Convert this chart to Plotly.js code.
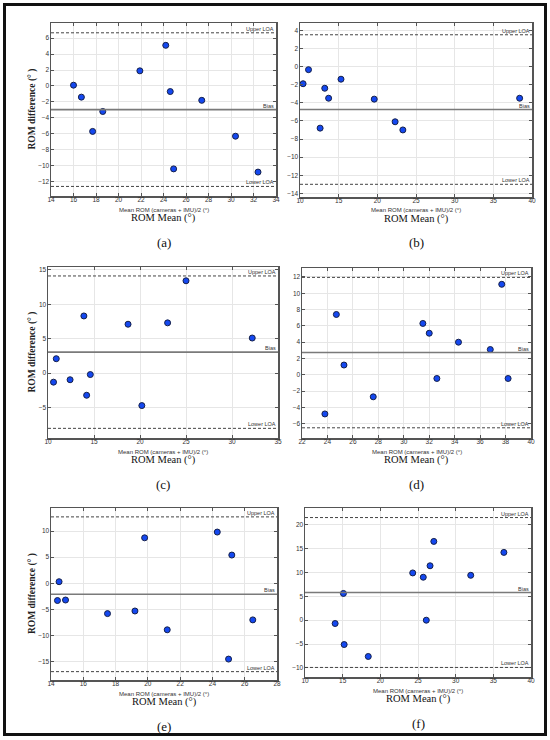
<!DOCTYPE html>
<html>
<head>
<meta charset="utf-8">
<script src="https://cdn.plot.ly/plotly-3.0.1.min.js"></script>
<style>html,body{margin:0;padding:0;background:#fff;}#chart{width:550px;height:740px;}</style>
</head>
<body>
<div id="chart"></div>
<script>
// ---- Data ----
const panelLabels = ["(a)", "(b)", "(c)", "(d)", "(e)", "(f)"];

const xA = [16.0, 16.7, 17.7, 18.6, 21.9, 24.2, 24.6, 24.9, 27.4, 30.4, 32.4];
const yA = [0.1, -1.4, -5.7, -3.2, 1.9, 5.1, -0.7, -10.4, -1.8, -6.3, -10.8];

const xB = [10.4, 11.1, 12.6, 13.2, 13.7, 15.3, 19.6, 22.3, 23.3, 38.4];
const yB = [-1.9, -0.35, -6.8, -2.4, -3.5, -1.4, -3.6, -6.1, -7.0, -3.5];

const xC = [10.6, 10.9, 12.4, 13.9, 14.2, 14.6, 18.7, 20.2, 23.0, 25.0, 32.2];
const yC = [-1.3, 2.1, -0.95, 8.3, -3.2, -0.2, 7.1, -4.7, 7.3, 13.4, 5.1];

const xD = [23.8, 24.7, 25.3, 27.6, 31.5, 32.0, 32.6, 34.3, 36.8, 37.7, 38.2];
const yD = [-4.8, 7.4, 1.2, -2.7, 6.3, 5.1, -0.45, 4.0, 3.1, 11.1, -0.45];

const xE = [14.4, 14.5, 14.9, 17.5, 19.2, 19.8, 21.2, 24.3, 25.0, 25.2, 26.5];
const yE = [-3.3, 0.3, -3.2, -5.8, -5.3, 8.7, -8.9, 9.8, -14.5, 5.4, -7.0];

const xF = [14.0, 15.1, 15.2, 18.4, 24.3, 25.7, 26.1, 26.6, 27.1, 32.0, 36.4];
const yF = [-0.7, 5.6, -5.1, -7.6, 9.9, 9.0, 0.0, 11.4, 16.5, 9.4, 14.2];

const biasVals  = [-2.97, -4.75, 3.05, 2.73, -2.1, 5.8];
const upperLOA  = [6.67, 3.5, 14.1, 11.95, 12.7, 21.5];
const lowerLOA  = [-12.6, -13.0, -8.0, -6.5, -16.9, -9.9];

const xRanges = [[14, 34], [10, 40], [10, 35], [22, 40], [14, 28], [10, 40]];
const yRanges = [[-13.8, 7.9], [-14.4, 4.8], [-9.4, 15.4], [-7.75, 13.1], [-18.5, 14.4], [-11.9, 23.5]];
const xDticks = [2, 5, 5, 2, 2, 5];
const yDticks = [2, 2, 5, 2, 5, 5];

const xTitleSmall = "Mean ROM (cameras + IMU)/2 (°)";
const xTitleBig = "ROM Mean (°)";
const yTitle = "ROM difference (° )";

// ---- Layout geometry (pixels) ----
const W = 550, H = 740;
const boxes = [ // [left, top, right, bottom]
  [51, 23, 276, 196],
  [300, 23, 532, 197],
  [48, 267, 278, 438],
  [302, 268, 531, 438],
  [51, 508, 277, 680],
  [305, 508, 531, 677]
];
const px = v => v / W;
const py = v => 1 - v / H;

const xs = [xA, xB, xC, xD, xE, xF];
const ys = [yA, yB, yC, yD, yE, yF];

const sans = "Liberation Sans, Arial, sans-serif";
const serif = "Liberation Serif, Times New Roman, serif";

const traces = [];
const layout = {
  width: W, height: H,
  margin: {l: 0, r: 0, t: 0, b: 0},
  paper_bgcolor: "#ffffff",
  plot_bgcolor: "#ffffff",
  showlegend: false,
  shapes: [],
  annotations: []
};

for (let i = 0; i < 6; i++) {
  const n = i === 0 ? "" : String(i + 1);
  const b = boxes[i];
  traces.push({
    type: "scatter", mode: "markers",
    x: xs[i], y: ys[i],
    xaxis: "x" + n, yaxis: "y" + n,
    marker: {size: 6, color: "#1448f0", line: {color: "#15204a", width: 1}},
    hoverinfo: "skip"
  });
  const axCommon = {
    showgrid: true, gridcolor: "#e6e6e6", gridwidth: 1,
    zeroline: false,
    showline: true, linecolor: "#555555", linewidth: 1.5, mirror: "ticks",
    ticks: "inside", ticklen: 3, tickcolor: "#555555", tickwidth: 1,
    tickfont: {family: sans, size: 6.5, color: "#333333"}
  };
  layout["xaxis" + n] = Object.assign({}, axCommon, {
    domain: [px(b[0]), px(b[2])],
    anchor: "y" + n,
    range: xRanges[i], dtick: xDticks[i], tick0: 0,
    ticklabelstandoff: -3
  });
  layout["yaxis" + n] = Object.assign({}, axCommon, {
    domain: [py(b[3]), py(b[1])],
    anchor: "x" + n,
    range: yRanges[i], dtick: yDticks[i], tick0: 0,
    ticklabelstandoff: -1
  });
  // Bias and LOA lines
  const lines = [
    {y: upperLOA[i], dash: true, color: "#444444", w: 1, label: "Upper LOA"},
    {y: biasVals[i], dash: false, color: "#7a7a7a", w: 1.6, label: "Bias"},
    {y: lowerLOA[i], dash: true, color: "#444444", w: 1, label: "Lower LOA"}
  ];
  lines.forEach(L => {
    layout.shapes.push({
      type: "line", xref: "x" + n + " domain", yref: "y" + n,
      x0: 0, x1: 1, y0: L.y, y1: L.y,
      line: {color: L.color, width: L.w, dash: L.dash ? "3px,2px" : "solid"}
    });
    layout.annotations.push({
      xref: "x" + n + " domain", yref: "y" + n,
      x: 0.998, y: L.y, xanchor: "right", yanchor: "bottom",
      yshift: -1,
      text: L.label, showarrow: false,
      font: {family: sans, size: 5.5, color: "#333333"}
    });
  });
  const cx = px((b[0] + b[2]) / 2);
  layout.annotations.push({
    xref: "paper", yref: "paper", x: cx, y: py(b[3] + 13.5),
    text: xTitleSmall, showarrow: false, xanchor: "center", yanchor: "middle",
    font: {family: sans, size: 6, color: "#333333"}
  });
  layout.annotations.push({
    xref: "paper", yref: "paper", x: cx, y: py(b[3] + 22),
    text: xTitleBig, showarrow: false, xanchor: "center", yanchor: "middle",
    font: {family: serif, size: 10.5, color: "#111111"}
  });
  layout.annotations.push({
    xref: "paper", yref: "paper", x: cx, y: py(b[3] + 46),
    text: panelLabels[i], showarrow: false, xanchor: "center", yanchor: "middle",
    font: {family: serif, size: 13, color: "#111111"}
  });
  if (i % 2 === 0) {
    layout.annotations.push({
      xref: "paper", yref: "paper", x: px(32), y: py((b[1] + b[3]) / 2),
      text: "<b>" + yTitle + "</b>", showarrow: false, textangle: -90,
      xanchor: "center", yanchor: "middle",
      font: {family: serif, size: 9.5, color: "#222222"}
    });
  }
}

// outer frame
layout.shapes.push({
  type: "rect", xref: "paper", yref: "paper",
  x0: px(4.5), x1: px(545.5), y0: py(734.5), y1: py(4.5),
  line: {color: "#111111", width: 3}
});

Plotly.newPlot("chart", traces, layout, {staticPlot: true, displayModeBar: false});
</script>
</body>
</html>
